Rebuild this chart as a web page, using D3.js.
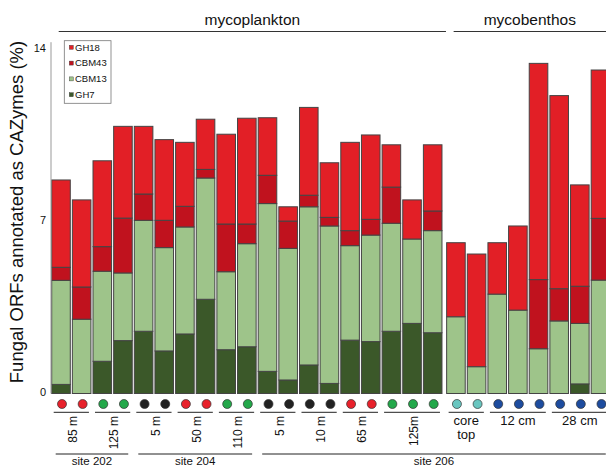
<!DOCTYPE html>
<html>
<head>
<meta charset="utf-8">
<script src="https://cdn.jsdelivr.net/npm/d3@7"></script>
<style>
body { margin: 0; background: #fff; }
svg { display: block; font-family: "Liberation Sans", Arial, Helvetica, sans-serif; }
</style>
</head>
<body>
<script>
// % of fungal ORFs per sample, stacked bottom to top: GH7, CBM13, CBM43, GH18
var gh7   = [0.37, 0, 1.31, 2.15, 2.53, 1.73, 2.42, 3.83, 1.78, 1.90, 0.90, 0.55, 1.16, 0.41, 2.17, 2.11, 2.53, 2.85, 2.47, 0, 0, 0, 0, 0, 0, 0.39, 0];
var cbm13 = [4.23, 3.02, 3.66, 2.75, 4.51, 4.20, 4.35, 4.93, 3.17, 4.19, 6.82, 5.35, 6.43, 6.40, 3.84, 4.33, 4.39, 3.43, 4.15, 3.12, 1.09, 4.04, 3.39, 1.82, 2.95, 2.46, 4.61];
var cbm43 = [0.53, 1.31, 1.00, 2.23, 1.07, 1.11, 0.84, 0.35, 1.94, 0.80, 1.15, 1.11, 0.47, 0.35, 0.61, 0.64, 1.47, 0, 0.80, 0, 0, 0, 0, 2.81, 1.31, 1.51, 2.51];
var gh18  = [3.55, 3.54, 3.49, 3.73, 2.75, 3.28, 2.60, 2.04, 3.65, 4.30, 2.34, 0.58, 3.57, 2.22, 3.59, 3.43, 1.72, 1.59, 2.69, 3.01, 4.58, 2.09, 3.42, 8.79, 7.85, 4.12, 6.03];

// sample grouping
var habitats = ["mycoplankton", "mycobenthos"];
var habitatSizes = [19, 8];
var depthLabels = ["85 m", "125 m", "5 m", "50 m", "110 m", "5 m", "10 m", "65 m", "125m", "core top", "12 cm", "28 cm"];
var depthSizes = [2, 2, 2, 2, 2, 2, 2, 2, 3, 2, 3, 3];
var depthDots = ["red", "green", "black", "red", "green", "black", "black", "red", "green", "teal", "blue", "blue"];
var sites = ["site 202", "site 204", "site 206"];
var siteSizes = [4, 6, 17];
var yTicks = [0, 7, 14];

var keys = ["GH7", "CBM13", "CBM43", "GH18"];
var legendKeys = ["GH18", "CBM43", "CBM13", "GH7"];

var W = 606, H = 467;

var color = d3.scaleOrdinal()
    .domain(keys)
    .range(["#3b5829", "#9ec48a", "#c0121e", "#e21f26"]);

var dotColor = d3.scaleOrdinal()
    .domain(["red", "green", "black", "teal", "blue"])
    .range(["#e8212b", "#23a84a", "#222222", "#69c6c0", "#1d4c9f"]);

// build sample rows
var rows = gh7.map(function (v, i) {
    return { id: "s" + i, GH7: v, CBM13: cbm13[i], CBM43: cbm43[i], GH18: gh18[i] };
});

// index ranges of each group
function spans(sizes) {
    var out = [], start = 0;
    sizes.forEach(function (n) {
        out.push([start, start + n - 1]);
        start += n;
    });
    return out;
}
var habitatSpans = spans(habitatSizes);
var depthSpans = spans(depthSizes);
var siteSpans = spans(siteSizes);

var svg = d3.select("body").append("svg").attr("width", W).attr("height", H);

var x = d3.scaleBand()
    .domain(rows.map(function (d) { return d.id; }))
    .range([50.67, 608.2])
    .paddingInner(0.1)
    .paddingOuter(0.05);
var bw = x.bandwidth();
var benthosGap = 2.6;

function bx(i) {
    return x("s" + i) + (i > habitatSpans[0][1] ? benthosGap : 0);
}

var y = d3.scaleLinear().domain([0, 14]).range([393.5, 49.1]);

// stacked bars
var stacked = d3.stack().keys(keys)(rows);

svg.append("g")
    .selectAll("g")
    .data(stacked)
    .enter().append("g")
    .attr("fill", function (d) { return color(d.key); })
    .selectAll("rect")
    .data(function (d) { return d.filter(function (s) { return s[1] - s[0] > 0; }); })
    .enter().append("rect")
    .attr("x", function (s) { return bx(+s.data.id.slice(1)); })
    .attr("y", function (s) { return y(s[1]); })
    .attr("width", bw)
    .attr("height", function (s) { return y(s[0]) - y(s[1]); })
    .attr("stroke", "#444")
    .attr("stroke-width", 1);

// y axis
svg.append("line")
    .attr("x1", 51).attr("x2", 51)
    .attr("y1", y(14.28)).attr("y2", y(0))
    .attr("stroke", "#999").attr("stroke-width", 1);

var yAxis = svg.append("g")
    .attr("transform", "translate(51,0)")
    .call(d3.axisLeft(y).tickValues(yTicks).tickSize(0).tickPadding(5));
yAxis.select(".domain").remove();
yAxis.selectAll("text")
    .attr("dy", "0.2em")
    .style("font-size", "11px")
    .style("font-family", "'Liberation Sans', Arial, sans-serif")
    .attr("fill", "#111");

svg.append("text")
    .attr("transform", "translate(23,212) rotate(-90)")
    .attr("text-anchor", "middle")
    .style("font-size", "18.5px")
    .attr("fill", "#111")
    .text("Fungal ORFs annotated as CAZymes (%)");

// habitat headers
habitatSpans.forEach(function (sp, k) {
    var x1 = bx(sp[0]) + 7;
    var x2 = Math.min(bx(sp[1]) + bw + 4, W);
    svg.append("line")
        .attr("x1", x1).attr("x2", x2)
        .attr("y1", 31.5).attr("y2", 31.5)
        .attr("stroke", "#333").attr("stroke-width", 1.2);
    svg.append("text")
        .attr("x", (x1 + x2) / 2).attr("y", 25)
        .attr("text-anchor", "middle")
        .style("font-size", "15.5px")
        .attr("fill", "#111")
        .text(habitats[k]);
});

// sample dots
svg.append("g")
    .selectAll("circle")
    .data(rows)
    .enter().append("circle")
    .attr("cx", function (d, i) { return bx(i) + bw / 2 + 1; })
    .attr("cy", 404)
    .attr("r", 4.5)
    .attr("fill", function (d, i) {
        var g = depthSpans.findIndex(function (sp) { return i >= sp[0] && i <= sp[1]; });
        return dotColor(depthDots[g]);
    })
    .attr("stroke", "#333")
    .attr("stroke-width", 0.7);

// depth groups
depthSpans.forEach(function (sp, k) {
    var x1 = bx(sp[0]) + 2;
    var x2 = Math.min(bx(sp[1]) + bw - 2, W);
    var cx = (bx(sp[0]) + bx(sp[1]) + bw) / 2;
    svg.append("line")
        .attr("x1", x1).attr("x2", x2)
        .attr("y1", 412.3).attr("y2", 412.3)
        .attr("stroke", "#222").attr("stroke-width", 1);
    if (sp[1] <= habitatSpans[0][1]) {
        svg.append("text")
            .attr("transform", "translate(" + (cx + 1.5) + ",416) rotate(-90)")
            .attr("text-anchor", "end")
            .attr("dy", "0.35em")
            .style("font-size", "12px")
            .attr("fill", "#111")
            .text(depthLabels[k]);
    } else {
        var t = svg.append("text")
            .attr("text-anchor", "middle")
            .style("font-size", "13px")
            .attr("fill", "#111");
        depthLabels[k].split(" ").length > 1 && depthLabels[k].indexOf("cm") < 0
            ? depthLabels[k].split(" ").forEach(function (w, j) {
                t.append("tspan").attr("x", cx).attr("y", 424.5 + j * 14).text(w);
            })
            : t.attr("x", cx).attr("y", 424.5).text(depthLabels[k]);
    }
});

// sites
siteSpans.forEach(function (sp, k) {
    var x1 = bx(sp[0]) + 4;
    var x2 = Math.min(bx(sp[1]) + bw - 4, W);
    svg.append("line")
        .attr("x1", x1).attr("x2", x2)
        .attr("y1", 454).attr("y2", 454)
        .attr("stroke", "#222").attr("stroke-width", 1);
    svg.append("text")
        .attr("x", (x1 + x2) / 2).attr("y", 464.5)
        .attr("text-anchor", "middle")
        .style("font-size", "11.5px")
        .attr("fill", "#111")
        .text(sites[k]);
});

// legend
var legend = svg.append("g").attr("transform", "translate(64.3,40.7)");
legend.append("rect")
    .attr("width", 46.7).attr("height", 62.6)
    .attr("fill", "#fff").attr("stroke", "#777").attr("stroke-width", 0.8);
var item = legend.selectAll("g.item")
    .data(legendKeys)
    .enter().append("g")
    .attr("class", "item")
    .attr("transform", function (d, i) { return "translate(5," + (6.6 + i * 15.8) + ")"; });
item.append("rect")
    .attr("x", 0).attr("y", -2)
    .attr("width", 4).attr("height", 4)
    .attr("fill", function (d) { return color(d); })
    .attr("stroke", "#333").attr("stroke-width", 0.4);
item.append("text")
    .attr("x", 5.7)
    .attr("dy", "0.35em")
    .style("font-size", "9.5px")
    .attr("fill", "#111")
    .text(function (d) { return d; });
</script>
</body>
</html>
